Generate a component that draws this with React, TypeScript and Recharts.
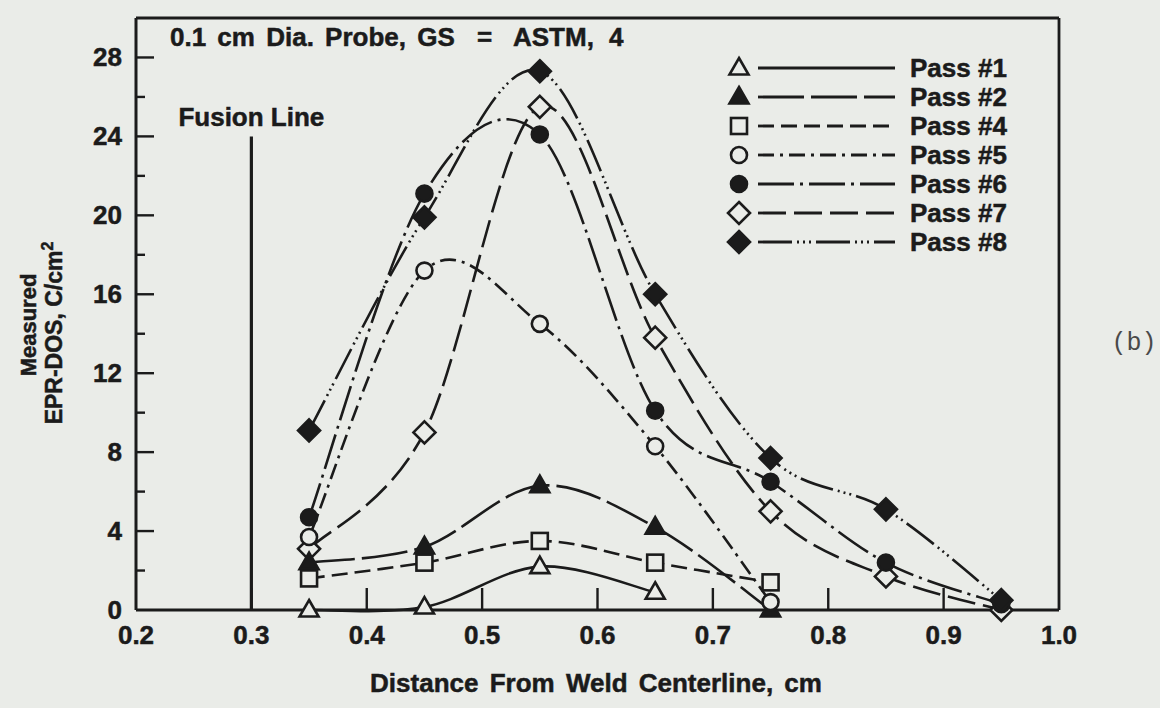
import React from 'react';
import { LineChart, Line, XAxis, YAxis, ReferenceLine } from 'recharts';

// distance from weld centerline (cm) where EPR-DOS was measured
const distance = [0.35, 0.45, 0.55, 0.65, 0.75, 0.85, 0.95];

// measured EPR-DOS, C/cm2 (null = not measured)
const pass1 = [0, 0.15, 2.2, 0.9, null, null, null];
const pass2 = [2.4, 3.2, 6.3, 4.2, 0, null, null];
const pass4 = [1.6, 2.4, 3.5, 2.4, 1.4, null, null];
const pass5 = [3.7, 17.2, 14.5, 8.3, 0.4, null, null];
const pass6 = [4.7, 21.1, 24.1, 10.1, 6.5, 2.4, 0.3];
const pass7 = [3.1, 9.0, 25.5, 13.8, 5.0, 1.7, 0];
const pass8 = [9.1, 19.9, 27.3, 16.0, 7.7, 5.1, 0.5];

const xTicks = [0.2, 0.3, 0.4, 0.5, 0.6, 0.7, 0.8, 0.9, 1.0];
const yTicks = [0, 2, 4, 6, 8, 10, 12, 14, 16, 18, 20, 22, 24, 26, 28];

const fusionLine = 0.3;
const fusionTop = 24;

const BG = '#eaece8';
const INK = '#1b1b1b';
const FONT = '"Liberation Sans", Arial, Helvetica, sans-serif';

type Shape = 'triangle' | 'square' | 'circle' | 'diamond';

// Catmull-Rom style spline through every point (hand-drawn french-curve look)
const smoothCurve = (context: any) => {
  let pts: [number, number][] = [];
  return {
    areaStart() {},
    areaEnd() {},
    lineStart() {
      pts = [];
    },
    point(x: number, y: number) {
      pts.push([+x, +y]);
    },
    lineEnd() {
      const n = pts.length;
      if (!n) return;
      context.moveTo(pts[0][0], pts[0][1]);
      const k = 1 / 6;
      for (let i = 0; i < n - 1; i++) {
        const p0 = pts[i - 1] || pts[i];
        const p1 = pts[i];
        const p2 = pts[i + 1];
        const p3 = pts[i + 2] || p2;
        context.bezierCurveTo(
          p1[0] + (p2[0] - p0[0]) * k,
          p1[1] + (p2[1] - p0[1]) * k,
          p2[0] - (p3[0] - p1[0]) * k,
          p2[1] - (p3[1] - p1[1]) * k,
          p2[0],
          p2[1],
        );
      }
    },
  };
};

const series: {
  key: string;
  name: string;
  values: (number | null)[];
  shape: Shape;
  filled: boolean;
  dash?: string;
}[] = [
  { key: 'p1', name: 'Pass #1', values: pass1, shape: 'triangle', filled: false },
  { key: 'p2', name: 'Pass #2', values: pass2, shape: 'triangle', filled: true, dash: '46 7' },
  { key: 'p4', name: 'Pass #4', values: pass4, shape: 'square', filled: false, dash: '16 7' },
  { key: 'p5', name: 'Pass #5', values: pass5, shape: 'circle', filled: false, dash: '16 6 3 6' },
  { key: 'p6', name: 'Pass #6', values: pass6, shape: 'circle', filled: true, dash: '36 6 3 6' },
  { key: 'p7', name: 'Pass #7', values: pass7, shape: 'diamond', filled: false, dash: '28 8' },
  { key: 'p8', name: 'Pass #8', values: pass8, shape: 'diamond', filled: true, dash: '34 5 2 4 2 4 2 5' },
];

// draw order: pass 7 underneath so its first marker hides behind pass 5
const drawOrder = ['p7', 'p1', 'p2', 'p4', 'p5', 'p6', 'p8'];

const rows = distance.map((d, i) => {
  const row: Record<string, number | null> = { d };
  series.forEach((s) => {
    row[s.key] = s.values[i];
  });
  return row;
});

const Marker = ({ cx, cy, shape, filled }: { cx: number; cy: number; shape: Shape; filled: boolean }) => {
  const common = { stroke: INK, strokeWidth: 2.6, fill: filled ? INK : BG };
  if (shape === 'triangle') {
    return <polygon points={`${cx},${cy - 10} ${cx + 9.5},${cy + 6.5} ${cx - 9.5},${cy + 6.5}`} {...common} />;
  }
  if (shape === 'square') {
    return <rect x={cx - 8} y={cy - 8} width={16} height={16} {...common} />;
  }
  if (shape === 'circle') {
    return <circle cx={cx} cy={cy} r={8} {...common} />;
  }
  return <polygon points={`${cx},${cy - 11} ${cx + 11},${cy} ${cx},${cy + 11} ${cx - 11},${cy}`} {...common} />;
};

const dotFor = (shape: Shape, filled: boolean) => (props: any) => {
  const { cx, cy, index, value } = props;
  if (cx == null || cy == null || value == null) return <g key={index} />;
  return (
    <g key={index}>
      <Marker cx={cx} cy={cy} shape={shape} filled={filled} />
    </g>
  );
};

const textStyle = {
  fontFamily: FONT,
  fontWeight: 'bold' as const,
  fill: INK,
  stroke: INK,
  strokeWidth: 0.5,
};

const XTick = (props: any) => {
  const { x, y, payload } = props;
  const v: number = payload.value;
  const inner = v > 0.21 && v < 0.99;
  return (
    <g>
      {inner && <line x1={x} x2={x} y1={y} y2={y - 22} stroke={INK} strokeWidth={2.4} />}
      <text x={x} y={y + 34} textAnchor="middle" fontSize={26} {...textStyle}>
        {v.toFixed(1)}
      </text>
    </g>
  );
};

const YTick = (props: any) => {
  const { x, y, payload } = props;
  const v: number = payload.value;
  const major = v % 4 === 0;
  return (
    <g>
      {v > 0 && <line x1={x} x2={x + (major ? 18 : 9)} y1={y} y2={y} stroke={INK} strokeWidth={2.4} />}
      {major && (
        <text x={x - 14} y={y + 9} textAnchor="end" fontSize={26} {...textStyle}>
          {v}
        </text>
      )}
    </g>
  );
};

const LegendBlock = () => (
  <g>
    {series.map((s, i) => {
      const cy = 68 + i * 29;
      return (
        <g key={s.key}>
          <Marker cx={739} cy={cy} shape={s.shape} filled={s.filled} />
          <line x1={758} x2={895} y1={cy} y2={cy} stroke={INK} strokeWidth={2.8} strokeDasharray={s.dash} />
          <text x={910} y={cy + 9} fontSize={26} {...textStyle}>
            {s.name}
          </text>
        </g>
      );
    })}
  </g>
);

const App = () => {
  return (
    <div style={{ position: 'absolute', left: 0, top: 0, width: 1160, height: 708, background: BG }}>
      <LineChart width={1160} height={708} data={rows} margin={{ top: 18, right: 101, bottom: 0, left: 0 }}>
        <XAxis
          type="number"
          dataKey="d"
          domain={[0.2, 1]}
          ticks={xTicks}
          interval={0}
          height={98}
          tickSize={0}
          tickMargin={0}
          tickLine={false}
          axisLine={{ stroke: INK, strokeWidth: 3 }}
          tick={(p: any) => <XTick {...p} />}
        />
        <YAxis
          type="number"
          domain={[0, 30]}
          ticks={yTicks}
          interval={0}
          width={136}
          tickSize={0}
          tickMargin={0}
          tickLine={false}
          axisLine={{ stroke: INK, strokeWidth: 3 }}
          tick={(p: any) => <YTick {...p} />}
        />
        <ReferenceLine y={30} stroke={INK} strokeWidth={2.8} />
        <ReferenceLine x={1} stroke={INK} strokeWidth={2.8} />
        <ReferenceLine
          segment={[
            { x: fusionLine, y: 0 },
            { x: fusionLine, y: fusionTop },
          ]}
          stroke={INK}
          strokeWidth={3.2}
          label={{
            value: 'Fusion Line',
            position: 'top',
            offset: 10,
            fontSize: 26,
            ...textStyle,
          }}
        />
        {drawOrder.map((k) => {
          const s = series.find((x) => x.key === k)!;
          return (
            <Line
              key={s.key}
              dataKey={s.key}
              name={s.name}
              type={smoothCurve as any}
              stroke={INK}
              strokeWidth={2.6}
              strokeDasharray={s.dash}
              dot={dotFor(s.shape, s.filled)}
              activeDot={false}
              connectNulls={false}
              isAnimationActive={false}
            />
          );
        })}
      </LineChart>
      <svg width={1160} height={708} style={{ position: 'absolute', left: 0, top: 0, pointerEvents: 'none' }}>
        <text y={46} fontSize={26} {...textStyle}>
          <tspan x={170} wordSpacing={4}>
            0.1 cm Dia. Probe, GS
          </tspan>
          <tspan x={477}>=</tspan>
          <tspan x={513} wordSpacing={8}>
            ASTM, 4
          </tspan>
        </text>
        <LegendBlock />
        <text x={596} y={692} textAnchor="middle" fontSize={26} wordSpacing={4} {...textStyle}>
          Distance From Weld Centerline, cm
        </text>
        <text transform="translate(36 325) rotate(-90)" textAnchor="middle" fontSize={22} {...textStyle}>
          Measured
        </text>
        <text transform="translate(62 333) rotate(-90)" textAnchor="middle" fontSize={23} {...textStyle}>
          EPR-DOS, C/cm
          <tspan dy={-9} fontSize={16}>
            2
          </tspan>
        </text>
        <text x={1134} y={350} textAnchor="middle" fontFamily='"Liberation Mono", monospace' fontSize={25} fill="#4a4a4a">
          (b)
        </text>
      </svg>
    </div>
  );
};

export default App;
